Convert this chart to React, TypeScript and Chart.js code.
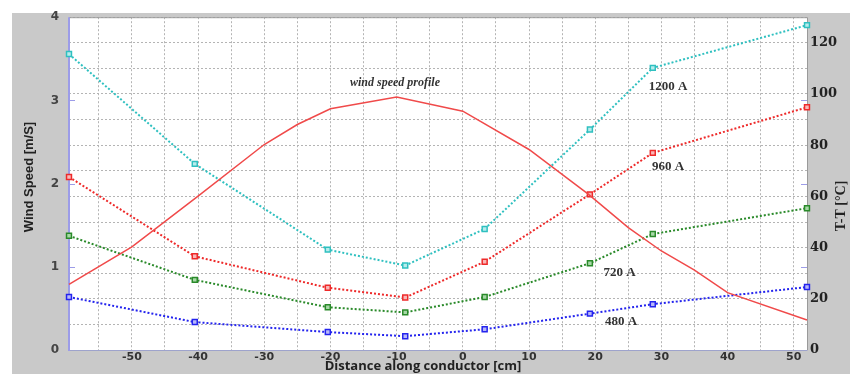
import React, { useEffect, useRef } from "react";
import { Chart, registerables } from "chart.js";

Chart.register(...registerables);

// ---- data ----
const positions = [-59.5, -40.5, -20.4, -8.7, 3.3, 19.2, 28.7, 52];
const temp1200 = [115.6, 72.7, 39.2, 33.0, 47.3, 86.1, 110.2, 126.9];
const temp960 = [67.6, 36.6, 24.3, 20.5, 34.5, 60.8, 77.0, 94.8];
const temp720 = [44.6, 27.4, 16.7, 14.7, 20.7, 33.9, 45.3, 55.4];
const temp480 = [20.7, 10.9, 7.0, 5.4, 8.1, 14.2, 17.9, 24.6];

const profileX = [-59.5, -50, -40, -30, -25, -20, -10, 0, 10, 19, 25, 30, 35, 40, 52];
const profileSpeed = [0.79, 1.24, 1.85, 2.47, 2.71, 2.9, 3.04, 2.87, 2.41, 1.87, 1.47, 1.19, 0.96, 0.69, 0.36];

const xTicks = [-55, -50, -45, -40, -35, -30, -25, -20, -15, -10, -5, 0, 5, 10, 15, 20, 25, 30, 35, 40, 45, 50];
const leftTicks = [0, 1, 2, 3, 4];
const rightTicks = [0, 10, 20, 30, 40, 50, 60, 70, 80, 90, 100, 110, 120, 130];

const seriesLabels = ["1200 A", "960 A", "720 A", "480 A"];
const seriesLabelX = [31.0, 31.0, 23.7, 23.9];
const seriesLabelT = [102.8, 71.8, 30.3, 10.9];
const profileLabel = "wind speed profile";
const profileLabelX = -10.25;
const profileLabelSpeed = 3.21;

const xTitle = "Distance along conductor [cm]";
const leftTitle = "Wind Speed [m/S]";
const rightTitle = "T-T [°C]";

const pts = (xs: number[], ys: number[]) => xs.map((x, i) => ({ x, y: ys[i] }));

const decoPlugin = {
  id: "deco",
  beforeDraw(chart: any) {
    const { ctx, width, height, chartArea: a } = chart;
    ctx.save();
    ctx.fillStyle = "#ffffff";
    ctx.fillRect(0, 0, width, height);
    ctx.fillStyle = "#c9c9c9";
    ctx.fillRect(12, 13, width - 12, height - 13);
    ctx.fillStyle = "#ffffff";
    ctx.fillRect(a.left, a.top, a.right - a.left, a.bottom - a.top);
    ctx.restore();
  },
  beforeDatasetsDraw(chart: any) {
    const { ctx, chartArea: a, scales } = chart;
    ctx.save();
    ctx.lineWidth = 1;
    ctx.strokeStyle = "#9a9a9a";
    ctx.beginPath();
    ctx.moveTo(a.left, a.top + 0.5);
    ctx.lineTo(a.right + 0.5, a.top + 0.5);
    ctx.lineTo(a.right + 0.5, a.bottom);
    ctx.stroke();
    ctx.strokeStyle = "#9ea3cc";
    ctx.beginPath();
    ctx.moveTo(a.left, a.bottom + 0.5);
    ctx.lineTo(a.right + 0.5, a.bottom + 0.5);
    ctx.stroke();
    ctx.strokeStyle = "#9c9ce8";
    ctx.lineWidth = 2;
    ctx.beginPath();
    ctx.moveTo(a.left, a.top);
    ctx.lineTo(a.left, a.bottom + 1);
    ctx.stroke();
    ctx.lineWidth = 1;
    [1, 2, 3].forEach((v) => {
      const y = Math.round(scales.y.getPixelForValue(v)) + 0.5;
      ctx.beginPath();
      ctx.moveTo(a.left, y);
      ctx.lineTo(a.left + 6, y);
      ctx.moveTo(a.right - 6, y);
      ctx.lineTo(a.right, y);
      ctx.stroke();
    });
    ctx.restore();
  },
  afterDraw(chart: any) {
    const { ctx, scales } = chart;
    ctx.save();
    ctx.fillStyle = "#333";
    ctx.textAlign = "center";
    ctx.textBaseline = "middle";
    ctx.font = "bold 13px 'Liberation Serif', serif";
    seriesLabels.forEach((t, i) => {
      ctx.fillText(t, scales.x.getPixelForValue(seriesLabelX[i]), scales.y1.getPixelForValue(seriesLabelT[i]));
    });
    ctx.font = "italic bold 12px 'Liberation Serif', serif";
    ctx.fillText(profileLabel, scales.x.getPixelForValue(profileLabelX), scales.y.getPixelForValue(profileLabelSpeed));

    ctx.fillStyle = "#222";
    ctx.font = "bold 13px 'Open Sans', sans-serif";
    ctx.fillText(xTitle, 423, 366);

    ctx.save();
    ctx.translate(29, 177);
    ctx.rotate(-Math.PI / 2);
    ctx.font = "bold 13px 'Liberation Sans Narrow', 'Liberation Sans', sans-serif";
    ctx.fillText(leftTitle, 0, 0);
    ctx.restore();

    ctx.save();
    ctx.translate(841, 206);
    ctx.rotate(-Math.PI / 2);
    ctx.font = "bold 14px 'Liberation Serif', serif";
    ctx.fillText(rightTitle, 0, 0);
    ctx.restore();
    ctx.restore();
  },
};

const tempDataset = (label: string, data: number[], color: string, fill: string) => ({
  label,
  data: pts(positions, data),
  yAxisID: "y1",
  borderColor: color,
  borderWidth: 2,
  borderDash: [2, 2],
  pointStyle: "rect",
  pointRadius: 3.5,
  pointBorderWidth: 1.5,
  pointBorderColor: color,
  pointBackgroundColor: fill,
  tension: 0,
  clip: 6,
});

export default function App() {
  const ref = useRef<HTMLCanvasElement | null>(null);
  useEffect(() => {
    document.body.style.margin = "0";
    if (!ref.current) return;
    const chart = new Chart(ref.current, {
      type: "line",
      data: {
        datasets: [
          {
            label: "wind speed profile",
            data: pts(profileX, profileSpeed),
            yAxisID: "y",
            borderColor: "#f04a4a",
            borderWidth: 1.5,
            pointRadius: 0,
            tension: 0,
            clip: 6,
          } as any,
          tempDataset("1200 A", temp1200, "#2fc0c0", "#b8ecec"),
          tempDataset("960 A", temp960, "#ee2a2a", "#f8b8b8"),
          tempDataset("720 A", temp720, "#2a8a2a", "#a8d8a8"),
          tempDataset("480 A", temp480, "#2424ee", "#b8b8f8"),
        ],
      },
      options: {
        responsive: false,
        devicePixelRatio: 1,
        animation: false,
        layout: { padding: { top: 15, left: 0, right: 0, bottom: 0 } },
        plugins: { legend: { display: false }, tooltip: { enabled: false }, title: { display: false } },
        scales: {
          x: {
            type: "linear",
            position: "bottom",
            min: -59.5,
            max: 52,
            afterBuildTicks: (s: any) => {
              s.ticks = xTicks.map((v) => ({ value: v }));
            },
            afterFit: (s: any) => {
              s.height = 24;
            },
            ticks: {
              autoSkip: false,
              maxRotation: 0,
              padding: 1,
              color: "#333",
              font: { family: "'DejaVu Sans', sans-serif", weight: "bold", size: 11 },
              callback: (v: any) => (Number(v) % 10 === 0 ? String(v) : ""),
            },
            grid: { color: "#b4b4b4", lineWidth: 1, drawTicks: false },
            border: { display: false, dash: [2, 2] },
          },
          y: {
            type: "linear",
            position: "left",
            min: 0,
            max: 4,
            afterBuildTicks: (s: any) => {
              s.ticks = leftTicks.map((v) => ({ value: v }));
            },
            afterFit: (s: any) => {
              s.width = 69;
            },
            ticks: {
              padding: 10,
              color: "#444",
              font: { family: "'DejaVu Sans', sans-serif", weight: "bold", size: 12 },
            },
            grid: { display: false, drawTicks: false },
            border: { display: false },
          },
          y1: {
            type: "linear",
            position: "right",
            min: 0,
            max: 130,
            afterBuildTicks: (s: any) => {
              s.ticks = rightTicks.map((v) => ({ value: v }));
            },
            afterFit: (s: any) => {
              s.width = 43;
            },
            ticks: {
              padding: 3,
              color: "#222",
              font: { family: "'DejaVu Serif', serif", weight: "bold", size: 13 },
              callback: (v: any) => (Number(v) % 20 === 0 && Number(v) <= 120 ? String(v) : ""),
            },
            grid: { color: "#b4b4b4", lineWidth: 1, drawTicks: false },
            border: { display: false, dash: [2, 2] },
          },
        },
      } as any,
      plugins: [decoPlugin],
    });
    return () => chart.destroy();
  }, []);
  return (
    <div style={{ width: 850, height: 374 }}>
      <canvas ref={ref} width={850} height={374} style={{ display: "block" }} />
    </div>
  );
}
